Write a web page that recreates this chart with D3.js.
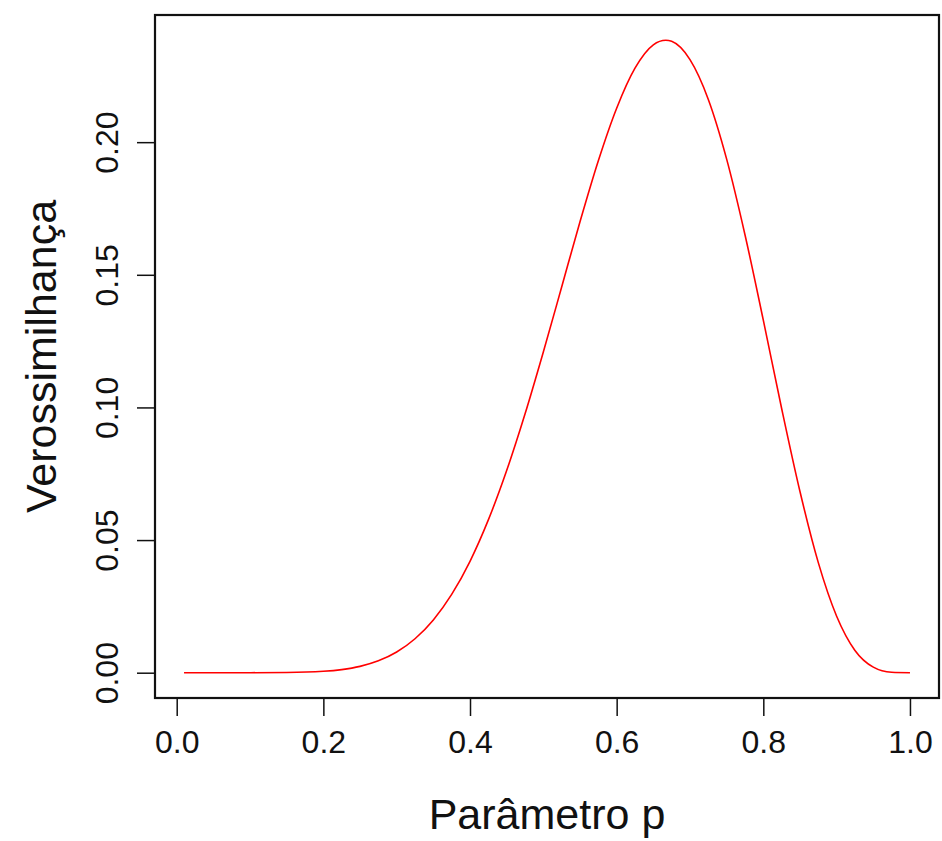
<!DOCTYPE html>
<html lang="en">
<head>
    <meta charset="UTF-8">
    <title>Verossimilhança</title>
    <script src="https://d3js.org/d3.v7.min.js"></script>
    <style>
        body { margin: 0; background: #fff; }
        text { font-family: "Liberation Sans", Arial, Helvetica, sans-serif; fill: #111; }
    </style>
</head>
<body>
<script>
    const width  = 942;
    const height = 841;

    // values
    const pValues = [0.01, 0.05, 0.10, 0.15, 0.20, 0.225, 0.25, 0.275, 0.30, 0.325, 0.35, 0.375,
                     0.40, 0.425, 0.45, 0.475, 0.50, 0.525, 0.55, 0.575, 0.60, 0.625, 0.65, 0.667,
                     0.675, 0.70, 0.725, 0.75, 0.775, 0.80, 0.825, 0.85, 0.875, 0.90, 0.925, 0.95,
                     0.975, 1.00];
    const likValues = [0, 0, 0.000003, 0.000066, 0.00052, 0.00117, 0.00239, 0.00447, 0.0078, 0.0128, 0.0199, 0.0295,
                       0.0420, 0.0576, 0.0762, 0.0975, 0.1209, 0.1454, 0.1700, 0.1930, 0.2128, 0.2279, 0.2367, 0.2384,
                       0.2380, 0.2311, 0.2161, 0.1936, 0.1651, 0.1329, 0.0996, 0.0683, 0.0415, 0.0213, 0.0084, 0.0021,
                       0.00016, 0];

    const xTicks = [0.0, 0.2, 0.4, 0.6, 0.8, 1.0];
    const yTicks = [0.00, 0.05, 0.10, 0.15, 0.20];
    const xLabel = "Parâmetro p";
    const yLabel = "Verossimilhança";

    const box = {left: 155, right: 939, top: 15, bottom: 698};

    // R style 4% padding on both ends
    const xPad = (d3.max(pValues) - d3.min(pValues)) * 0.04;
    const yPad = (d3.max(likValues) - d3.min(likValues)) * 0.04;

    const x = d3.scaleLinear()
        .domain([d3.min(pValues) - xPad, d3.max(pValues) + xPad])
        .range([box.left, box.right]);
    const y = d3.scaleLinear()
        .domain([d3.min(likValues) - yPad, d3.max(likValues) + yPad])
        .range([box.bottom, box.top]);

    const svg = d3.select("body").append("svg")
        .attr("width", width)
        .attr("height", height);

    const data = pValues.map((p, i) => ({p: p, v: likValues[i]}));

    const line = d3.line()
        .x(d => x(d.p))
        .y(d => y(d.v))
        .curve(d3.curveMonotoneX);

    svg.append("path")
        .datum(data)
        .attr("d", line)
        .attr("fill", "none")
        .attr("stroke", "#ff0000")
        .attr("stroke-width", 1.6);

    svg.append("rect")
        .attr("x", box.left)
        .attr("y", box.top)
        .attr("width", box.right - box.left)
        .attr("height", box.bottom - box.top)
        .attr("fill", "none")
        .attr("stroke", "#111")
        .attr("stroke-width", 2.2);

    const xAxis = d3.axisBottom(x)
        .tickValues(xTicks)
        .tickSize(18)
        .tickPadding(14)
        .tickFormat(d3.format(".1f"));
    const gx = svg.append("g")
        .attr("transform", "translate(0," + box.bottom + ")")
        .call(xAxis);
    gx.select(".domain").remove();
    gx.selectAll("line").attr("stroke", "#111").attr("stroke-width", 1.5);
    gx.selectAll("text")
        .style("font-size", "32px")
        .attr("font-family", null);

    const yAxis = d3.axisLeft(y)
        .tickValues(yTicks)
        .tickSize(18)
        .tickPadding(12)
        .tickFormat(d3.format(".2f"));
    const gy = svg.append("g")
        .attr("transform", "translate(" + box.left + ",0)")
        .call(yAxis);
    gy.select(".domain").remove();
    gy.selectAll("line").attr("stroke", "#111").attr("stroke-width", 1.5);
    gy.selectAll("text")
        .style("font-size", "32px")
        .attr("x", null)
        .attr("dy", null)
        .attr("text-anchor", "middle")
        .attr("transform", "translate(-37,0) rotate(-90)");

    svg.append("text")
        .attr("x", (box.left + box.right) / 2)
        .attr("y", 829)
        .attr("text-anchor", "middle")
        .style("font-size", "43px")
        .text(xLabel);

    svg.append("text")
        .attr("transform", "translate(56," + (box.top + box.bottom) / 2 + ") rotate(-90)")
        .attr("text-anchor", "middle")
        .style("font-size", "43px")
        .text(yLabel);
</script>
</body>
</html>
